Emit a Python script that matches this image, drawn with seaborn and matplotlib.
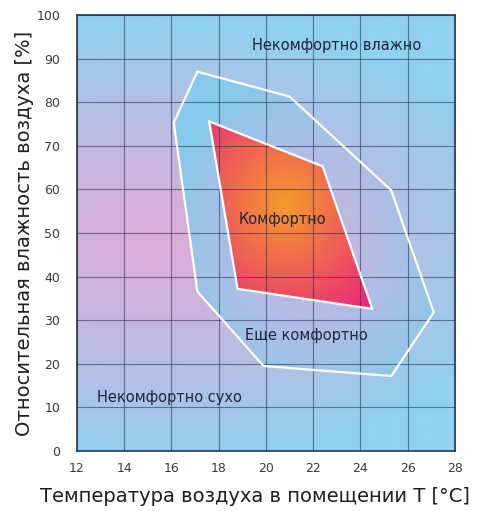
"""Comfort zone chart: indoor air temperature vs relative humidity."""

import matplotlib

matplotlib.use("Agg")
import matplotlib.pyplot as plt
import numpy as np
import pandas as pd
import seaborn as sns
from matplotlib.colors import to_rgb

# Outer zone "Еще комфортно" (temperature °C, humidity %)
outer_temp = [17.1, 21.0, 25.3, 27.1, 25.3, 19.9, 17.1, 16.1]
outer_rh = [87.0, 81.3, 59.8, 31.8, 17.2, 19.5, 36.6, 75.3]

# Inner zone "Комфортно"
inner_temp = [17.6, 22.4, 24.5, 18.8]
inner_rh = [75.6, 65.3, 32.6, 37.2]

x_ticks = [12, 14, 16, 18, 20, 22, 24, 26, 28]
y_ticks = [0, 10, 20, 30, 40, 50, 60, 70, 80, 90, 100]

zone_labels = ["Некомфортно влажно", "Комфортно", "Еще комфортно", "Некомфортно сухо"]
zone_label_temp = [23.0, 20.7, 21.7, 15.9]
zone_label_rh = [93.0, 53.2, 26.4, 12.2]

XLIM = (12, 28)
YLIM = (0, 100)
GRID_COLOR = "#2b3552"
TEXT_COLOR = "#1f2440"


def _mix(c1, c2, t):
    c1 = np.array(to_rgb(c1))
    c2 = np.array(to_rgb(c2))
    t = np.clip(t, 0, 1)[..., None]
    return c1 * (1 - t) + c2 * t


def _grid():
    gx = np.linspace(XLIM[0], XLIM[1], 320)
    gy = np.linspace(YLIM[0], YLIM[1], 400)
    return np.meshgrid(gx, gy)


def _gradient_fill(ax, temps, rhs, center, scale, inner_color, outer_color, power=1.0):
    """Fill a polygon with a radial gradient clipped to its outline."""
    xx, yy = _grid()
    t = np.sqrt(((xx - center[0]) / scale[0]) ** 2 + ((yy - center[1]) / scale[1]) ** 2)
    img = _mix(inner_color, outer_color, t ** power)
    patch = ax.fill(temps, rhs, facecolor="none", edgecolor="none")[0]
    im = ax.imshow(img, extent=(*XLIM, *YLIM), origin="lower", aspect="auto",
                   interpolation="bilinear", zorder=1)
    im.set_clip_path(patch)


def _outline(ax, temps, rhs):
    df = pd.DataFrame({"t": temps + temps[:1], "rh": rhs + rhs[:1]})
    sns.lineplot(data=df, x="t", y="rh", sort=False, estimator=None,
                 color="white", lw=1.6, ax=ax, zorder=3)


sns.set_style("white")
plt.rcParams["font.family"] = ["DejaVu Sans"]

fig = plt.figure(figsize=(4.8, 5.11), dpi=100)
ax = fig.add_axes([0.160, 0.1174, 0.788, 0.8532])

# background: blue at top/bottom, pink-lavender in the middle
xx, yy = _grid()
tb = np.sqrt(((xx - 15.5) / 16.0) ** 2 + ((yy - 48) / 50.0) ** 2)
bg = _mix("#dcacd8", "#90d0f0", tb ** 1.3)
ax.imshow(bg, extent=(*XLIM, *YLIM), origin="lower", aspect="auto",
          interpolation="bilinear", zorder=0)

_gradient_fill(ax, outer_temp, outer_rh, (22.0, 48.0), (6.5, 40.0),
               "#c8b6e0", "#86caec", power=1.4)
_gradient_fill(ax, inner_temp, inner_rh, (20.8, 57.0), (5.5, 34.0),
               "#f59a2c", "#e82280", power=1.0)

_outline(ax, outer_temp, outer_rh)
_outline(ax, inner_temp, inner_rh)

for label, t, rh in zip(zone_labels, zone_label_temp, zone_label_rh):
    ax.text(t, rh, label, ha="center", va="center", fontsize=10.5,
            color=TEXT_COLOR, zorder=4)

ax.set_xlim(*XLIM)
ax.set_ylim(*YLIM)
ax.set_xticks(x_ticks)
ax.set_yticks(y_ticks)
ax.grid(True, color=GRID_COLOR, lw=0.8, alpha=0.6, zorder=2)
ax.set_axisbelow(False)
for s in ax.spines.values():
    s.set_color(GRID_COLOR)
    s.set_linewidth(1.2)
    s.set_visible(True)
    s.set_zorder(5)
ax.tick_params(length=0, labelsize=9, labelcolor="#3a3a3a")
ax.tick_params(axis="x", pad=8)
ax.tick_params(axis="y", pad=12)

ax.set_xlabel("Температура воздуха в помещении Т [°C]", fontsize=14,
              color="#1e1e1e")
ax.set_ylabel("Относительная влажность воздуха [%]", fontsize=14,
              color="#1e1e1e")
ax.xaxis.set_label_coords(0.47, -0.082)
ax.yaxis.set_label_coords(-0.112, 0.5)

fig.savefig("out.png", dpi=100)
plt.close(fig)
